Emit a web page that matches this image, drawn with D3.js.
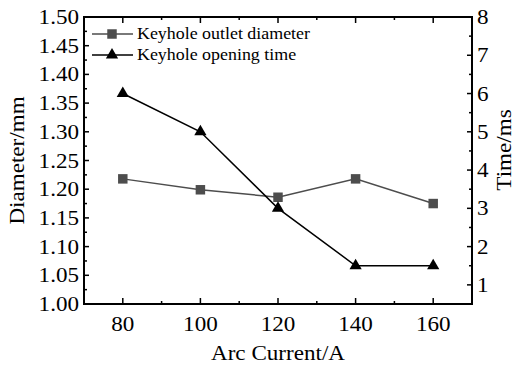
<!DOCTYPE html>
<html>
<head>
<meta charset="utf-8">
<script src="https://cdn.jsdelivr.net/npm/d3@7"></script>
<style>
  body { margin: 0; background: #fff; }
  text { font-family: "Liberation Serif", "Times New Roman", serif; fill: #000; }
</style>
</head>
<body>
<div id="chart"></div>
<script>
// data
var currents = [80, 100, 120, 140, 160];
var diameter = [1.218, 1.199, 1.186, 1.218, 1.175];
var openTime = [6.0, 5.0, 3.0, 1.5, 1.5];
var leftTicks = [1.00, 1.05, 1.10, 1.15, 1.20, 1.25, 1.30, 1.35, 1.40, 1.45, 1.50];
var rightTicks = [1, 2, 3, 4, 5, 6, 7, 8];
var xTicks = [80, 100, 120, 140, 160];
var seriesNames = ["Keyhole outlet diameter", "Keyhole opening time"];

var width = 521, height = 370;
var margin = {left: 84, top: 17, right: 49, bottom: 66};

var svg = d3.select("#chart").append("svg")
  .attr("width", width)
  .attr("height", height);

var x = d3.scaleLinear().domain([70, 170]).range([margin.left, width - margin.right]);
var yL = d3.scaleLinear().domain([1.0, 1.5]).range([height - margin.bottom, margin.top]);
var yR = d3.scaleLinear().domain([0.5, 8]).range([height - margin.bottom, margin.top]);

var x0 = x.range()[0], x1 = x.range()[1];
var yb = yL.range()[0], yt = yL.range()[1];

// text helper, the original glyphs are a bit wider than tall
function label(g, tx, ty, str, size, anchor, sx, rot) {
  return g.append("text")
    .attr("transform", "translate(" + tx + "," + ty + ")" + (rot ? " rotate(" + rot + ")" : "") + " scale(" + sx + ",1)")
    .attr("text-anchor", anchor)
    .style("font-size", size + "px")
    .text(str);
}

function tickLine(g, x1_, y1_, x2_, y2_) {
  g.append("line").attr("x1", x1_).attr("y1", y1_).attr("x2", x2_).attr("y2", y2_)
    .attr("stroke", "#000").attr("stroke-width", 1.5);
}
var ax = svg.append("g");

// bottom + top ticks (inside)
d3.range(70, 171, 10).forEach(function(v) {
  var major = xTicks.indexOf(v) >= 0;
  var len = major ? 6 : 3;
  tickLine(ax, x(v), yb, x(v), yb - len);
  tickLine(ax, x(v), yt, x(v), yt + len);
});
xTicks.forEach(function(v) {
  label(ax, x(v), yb + 27, v, 21, "middle", 1.1);
});

// left
d3.range(1.0, 1.5001, 0.025).forEach(function(v, i) {
  var len = i % 2 === 0 ? 5 : 3;
  tickLine(ax, x0, yL(v), x0 + len, yL(v));
});
leftTicks.forEach(function(v) {
  label(ax, x0 - 5, yL(v) + 7, v.toFixed(2), 21, "end", 1.1);
});

// right
d3.range(0.5, 8.001, 0.5).forEach(function(v) {
  var major = Number.isInteger(v);
  tickLine(ax, x1 - (major ? 5 : 3), yR(v), x1, yR(v));
});
rightTicks.forEach(function(v) {
  label(ax, x1 + 5, yR(v) + 7, v, 21, "start", 1.1);
});

// frame
svg.append("rect").attr("x", x0).attr("y", yt)
  .attr("width", x1 - x0).attr("height", yb - yt)
  .attr("fill", "none").attr("stroke", "#000").attr("stroke-width", 2);

// axis titles
label(svg, 24, (yt + yb) / 2, "Diameter/mm", 22, "middle", 1.05, -90);
label(svg, 511, 150, "Time/ms", 22, "middle", 1.05, -90);
label(svg, (x0 + x1) / 2, 360, "Arc Current/A", 22, "middle", 1.05);

// series
var grey = "#4d4d4d";
var lineD = d3.line().x(function(d) { return x(d[0]); }).y(function(d) { return yL(d[1]); });
var lineT = d3.line().x(function(d) { return x(d[0]); }).y(function(d) { return yR(d[1]); });
var dData = currents.map(function(c, i) { return [c, diameter[i]]; });
var tData = currents.map(function(c, i) { return [c, openTime[i]]; });

svg.append("path").datum(dData).attr("d", lineD)
  .attr("fill", "none").attr("stroke", grey).attr("stroke-width", 1.5);
svg.append("path").datum(tData).attr("d", lineT)
  .attr("fill", "none").attr("stroke", "#000").attr("stroke-width", 1.5);

var sq = d3.symbol().type(d3.symbolSquare).size(90);
var tri = d3.symbol().type(d3.symbolTriangle).size(65);

svg.selectAll(".sq").data(dData).enter().append("path")
  .attr("class", "sq")
  .attr("transform", function(d) { return "translate(" + x(d[0]) + "," + yL(d[1]) + ")"; })
  .attr("d", sq).attr("fill", grey);
svg.selectAll(".tri").data(tData).enter().append("path")
  .attr("class", "tri")
  .attr("transform", function(d) { return "translate(" + x(d[0]) + "," + yR(d[1]) + ")"; })
  .attr("d", tri).attr("fill", "#000");

// legend
var leg = svg.append("g");
[[grey, sq], ["#000", tri]].forEach(function(s, i) {
  var ly = 34 + i * 21;
  leg.append("line").attr("x1", 92).attr("x2", 133).attr("y1", ly).attr("y2", ly)
    .attr("stroke", s[0]).attr("stroke-width", 1.5);
  leg.append("path").attr("transform", "translate(112," + ly + ")").attr("d", s[1]).attr("fill", s[0]);
  label(leg, 137, ly + 5, seriesNames[i], 16, "start", 1.12);
});
</script>
</body>
</html>
